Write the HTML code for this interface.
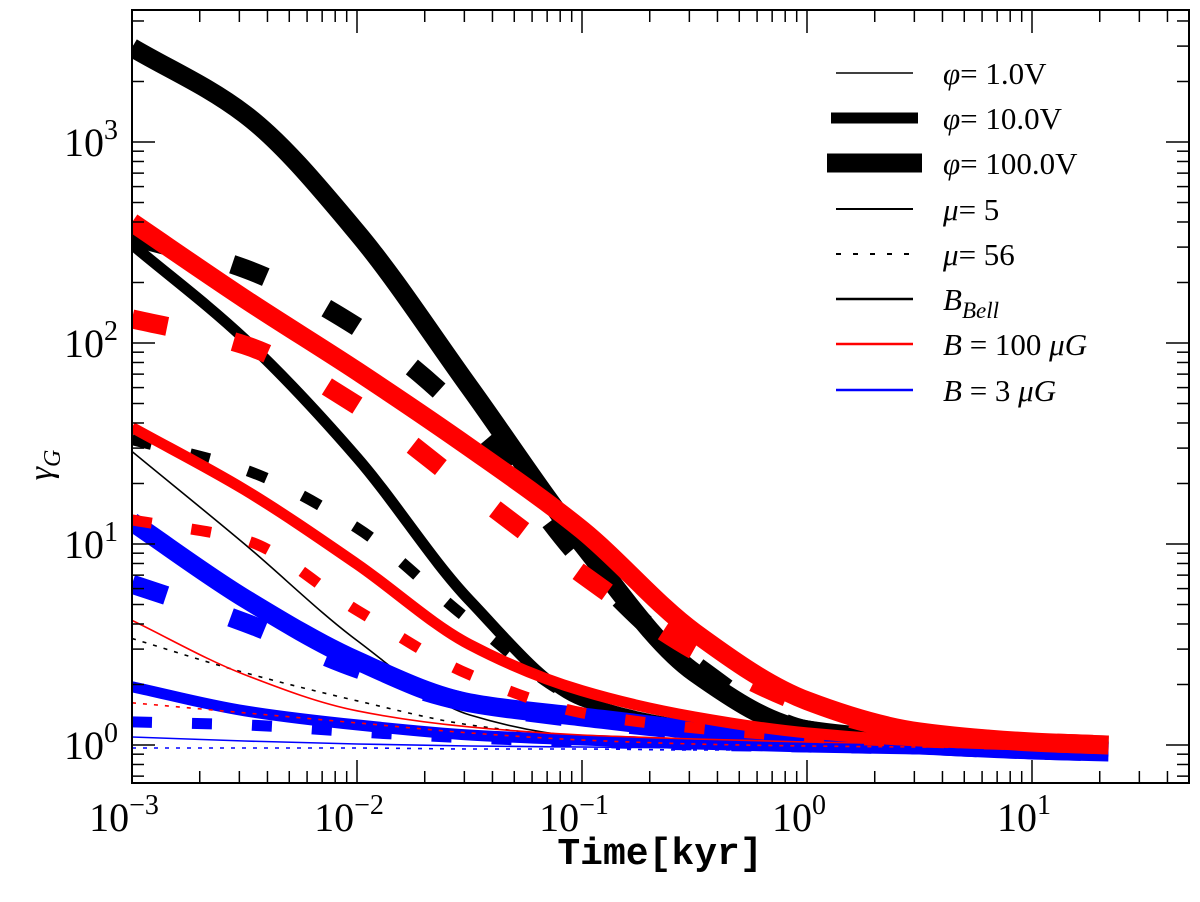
<!DOCTYPE html>
<html><head><meta charset="utf-8"><style>
body{margin:0;background:#fff}
svg{display:block}
text{font-family:"Liberation Serif",serif;fill:#000}
</style></head><body>
<svg id="chart" width="1200" height="902" xmlns="http://www.w3.org/2000/svg">
<rect x="0" y="0" width="1200" height="902" fill="#fff"/>
<g id="series"></g>
<g id="axes"></g>
<g id="legend"></g>
<text x="660" y="864" text-anchor="middle" style="font-family:'Liberation Mono',monospace;font-size:38px;font-weight:bold">Time[kyr]</text>
<text transform="translate(52,465) rotate(-90)" text-anchor="middle" style="font-size:34px;font-style:italic">γ<tspan dy="8" font-size="24">G</tspan></text>
</svg>
<script>
// log10(time) sample points
const logTimes = [-3,-2.5,-2,-1.5,-1,-0.5,0,0.5,1,1.34];
// log10(gamma_G) for each series
const blackThickSolid = [3.47,3.14,2.55,1.78,1.00,0.36,0.075,0.025,0.005,0];
const redThickSolid   = [2.60,2.22,1.86,1.48,1.07,0.56,0.22,0.065,0.015,0];
const blueThickSolid  = [1.11,0.73,0.42,0.21,0.14,0.075,0.025,0,-0.025,-0.035];
const blackMedSolid   = [2.49,2.02,1.43,0.72,0.22,0.09,0.035,0.01,0,-0.01];
const redMedSolid     = [1.58,1.27,0.90,0.50,0.27,0.14,0.06,0.02,0,-0.005];
const blueMedSolid    = [0.29,0.17,0.10,0.05,0.025,0.005,-0.01,-0.02,-0.025,-0.03];
const blackThinSolid  = [1.46,1.0,0.52,0.15,0.04,0.01,0,0,0,0];
const redThinSolid    = [0.62,0.35,0.17,0.09,0.05,0.03,0.015,0.005,0,0];
const blueThinSolid   = [0.04,0.02,0.005,-0.005,-0.01,-0.015,-0.02,-0.025,-0.025,-0.025];
const blackThickDash  = [2.53,2.37,2.08,1.62,0.92,0.40,0.075,0.015,0,-0.005];
const redThickDash    = [2.12,1.99,1.69,1.27,0.85,0.47,0.20,0.06,0.015,0];
const blueThickDash   = [0.80,0.61,0.38,0.21,0.13,0.07,0.025,0,-0.025,-0.035];
const blackMedDash    = [1.52,1.37,1.08,0.62,0.22,0.085,0.03,0.005,-0.005,-0.01];
const redMedDash      = [1.12,1.02,0.67,0.35,0.16,0.085,0.04,0.015,0,-0.005];
const blueMedDash     = [0.115,0.10,0.065,0.035,0.015,0,-0.01,-0.02,-0.025,-0.03];
const blackThinDash   = [0.53,0.36,0.22,0.10,0.04,0.015,0.005,0,0,0];
const redThinDash     = [0.21,0.16,0.11,0.06,0.025,0.005,-0.005,-0.01,-0.015,-0.015];
const blueThinDash    = [-0.015,-0.015,-0.015,-0.02,-0.02,-0.025,-0.025,-0.03,-0.03,-0.03];
const xTickLabels = ["−3","−2","−1","0","1"];
const yTickLabels = ["0","1","2","3"];
const legendLabels = ["φ= 1.0V","φ= 10.0V","φ= 100.0V","μ= 5","μ= 56","B_Bell","B = 100 μG","B = 3 μG"];

const NS="http://www.w3.org/2000/svg";
const L=132,R=1189,T=10,B=783;
const xMin=-3, xMax=-3+(R-L)/225, yMin=-(B-745)/201;
function X(lx){return L+(lx-xMin)/(xMax-xMin)*(R-L);}
function Y(ly){return 745-ly*201;}
function el(tag,attrs,parent){const e=document.createElementNS(NS,tag);for(const k in attrs)e.setAttribute(k,attrs[k]);parent.appendChild(e);return e;}

const colors={black:"#000",red:"#ff0000",blue:"#0000ff"};
const widths={thin:1.6,med:11,thick:19};
const dashes={thin:"4 7",med:"20 40",thick:"36 68"};
const seriesList=[
 ["black-thin-mu5",blackThinSolid,"black","thin",false],
 ["black-thin-mu56",blackThinDash,"black","thin",true],
 ["black-medium-mu5",blackMedSolid,"black","med",false],
 ["black-medium-mu56",blackMedDash,"black","med",true],
 ["black-thick-mu5",blackThickSolid,"black","thick",false],
 ["black-thick-mu56",blackThickDash,"black","thick",true],
 ["blue-thin-mu5",blueThinSolid,"blue","thin",false],
 ["blue-thin-mu56",blueThinDash,"blue","thin",true],
 ["blue-medium-mu5",blueMedSolid,"blue","med",false],
 ["blue-medium-mu56",blueMedDash,"blue","med",true],
 ["blue-thick-mu5",blueThickSolid,"blue","thick",false],
 ["blue-thick-mu56",blueThickDash,"blue","thick",true],
 ["red-thin-mu5",redThinSolid,"red","thin",false],
 ["red-thin-mu56",redThinDash,"red","thin",true],
 ["red-medium-mu5",redMedSolid,"red","med",false],
 ["red-medium-mu56",redMedDash,"red","med",true],
 ["red-thick-mu5",redThickSolid,"red","thick",false],
 ["red-thick-mu56",redThickDash,"red","thick",true]
];
const sg=document.getElementById("series");
const clip=el("clipPath",{id:"pc"},document.getElementById("chart"));
el("rect",{x:L,y:T,width:R-L,height:B-T},clip);
sg.setAttribute("clip-path","url(#pc)");
// monotone cubic (Fritsch-Carlson) path
function smoothPath(vals){
  const xs=logTimes.map(X), ys=vals.map(Y), n=xs.length;
  const dl=[],m=new Array(n);
  for(let i=0;i<n-1;i++)dl.push((ys[i+1]-ys[i])/(xs[i+1]-xs[i]));
  m[0]=dl[0]; m[n-1]=dl[n-2];
  for(let i=1;i<n-1;i++){
    if(dl[i-1]*dl[i]<=0)m[i]=0;
    else m[i]=2/(1/dl[i-1]+1/dl[i]);
  }
  let d="M"+xs[0].toFixed(1)+","+ys[0].toFixed(1);
  for(let i=0;i<n-1;i++){
    const h=xs[i+1]-xs[i];
    d+=" C"+(xs[i]+h/3).toFixed(1)+","+(ys[i]+m[i]*h/3).toFixed(1)+" "+(xs[i+1]-h/3).toFixed(1)+","+(ys[i+1]-m[i+1]*h/3).toFixed(1)+" "+xs[i+1].toFixed(1)+","+ys[i+1].toFixed(1);
  }
  return d;
}
seriesList.forEach(s=>{
  const path=el("path",{d:smoothPath(s[1]),fill:"none",stroke:colors[s[2]],"stroke-width":widths[s[3]]},sg);
  if(s[4])path.setAttribute("stroke-dasharray",dashes[s[3]]);
  
  
});

const ax=document.getElementById("axes");
const frame=el("rect",{x:L,y:T,width:R-L,height:B-T,fill:"none",stroke:"#000","stroke-width":2},ax);


for(let d=-3;d<=1;d++){
  for(let m=1;m<10;m++){
    const lx=d+Math.log10(m); if(lx>xMax)continue;
    const x=X(lx),len=m===1?23:12;
    el("line",{x1:x,y1:B,x2:x,y2:B-len,stroke:"#000","stroke-width":1.5},ax);
    el("line",{x1:x,y1:T,x2:x,y2:T+len,stroke:"#000","stroke-width":1.5},ax);
  }
}
xTickLabels.forEach((lab,i)=>{
  const t=el("text",{x:X(-3+i)-8,y:B+48,"text-anchor":"middle","font-size":"40"},ax);
  t.textContent="10";
  
  
  const s=el("tspan",{dy:"-17","font-size":"28"},t); s.textContent=lab;
});
for(let d=-1;d<=3;d++){
  for(let m=1;m<10;m++){
    const ly=d+Math.log10(m); if(ly<yMin||ly>3.66)continue;
    const y=Y(ly),len=m===1?23:12;
    el("line",{x1:L,y1:y,x2:L+len,y2:y,stroke:"#000","stroke-width":1.5},ax);
    el("line",{x1:R,y1:y,x2:R-len,y2:y,stroke:"#000","stroke-width":1.5},ax);
  }
}
yTickLabels.forEach((lab,i)=>{
  const t=el("text",{x:64,y:Y(+lab)+14,"font-size":"40"},ax);
  t.textContent="10";
  
  
  const s=el("tspan",{dy:"-17","font-size":"28"},t); s.textContent=lab;
});

const lg=document.getElementById("legend");
const legY=[73,118,163,209,254,299,344,390];
const legStyle=[["#000",1.6,null,0],["#000",11,null,5],["#000",19,null,9],["#000",2,null,0],["#000",2,"5 12",0],["#000",2.5,null,0],["#ff0000",2.5,null,0],["#0000ff",2.5,null,0]];
legendLabels.forEach((lab,i)=>{
  const st=legStyle[i];
  const ln=el("line",{x1:836-st[3],y1:legY[i],x2:913+st[3],y2:legY[i],stroke:st[0],"stroke-width":st[1]},lg);
  if(st[2])ln.setAttribute("stroke-dasharray",st[2]);
  
  
  const t=el("text",{x:943,y:legY[i]+11,"font-size":"31"},lg);
  
  
  if(lab==="B_Bell"){
    const a=el("tspan",{"font-style":"italic"},t);a.textContent="B";
    const b=el("tspan",{"font-style":"italic",dy:"8","font-size":"23"},t);b.textContent="Bell";
  } else {
    const parts=lab.split(/(φ|μ|B|G)/);
    parts.forEach(p=>{if(!p)return;const s=el("tspan",{},t);if(/^(φ|μ|B|G)$/.test(p))s.setAttribute("font-style","italic");s.textContent=p;});
  }
});
</script>
</body></html>
